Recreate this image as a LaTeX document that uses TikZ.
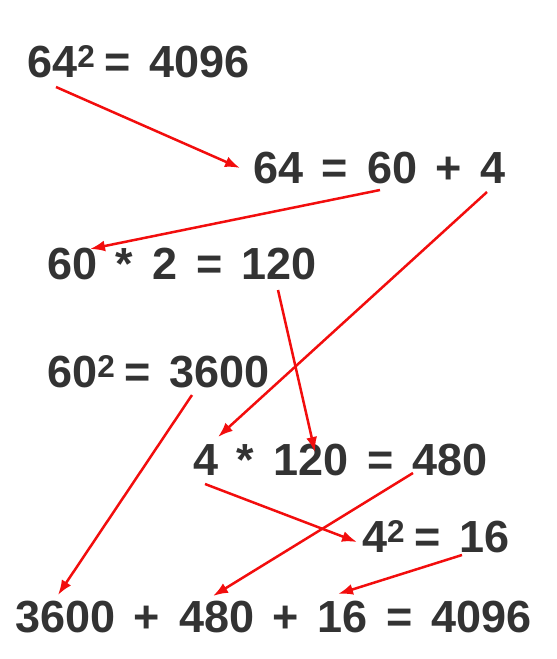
\documentclass[tikz,border=0pt]{standalone}
\usepackage{fontspec}
\setmainfont{Liberation Sans}[WordSpace=1.5]
\usetikzlibrary{arrows.meta}
\definecolor{ink}{HTML}{333333}
\definecolor{mark}{HTML}{F20D0D}
\newcommand{\sqr}{\textsuperscript{2}\kern9pt}
\tikzset{eq/.style={anchor=base west,inner sep=0pt,text=ink,font=\fontsize{45}{50}\selectfont\bfseries},link/.style={-{Latex[length=15pt,width=11pt]},line width=2.5pt,draw=mark}}

\begin{document}
\begin{tikzpicture}[x=1pt,y=-1pt]
\useasboundingbox (0,0) rectangle (557,659);
\node[eq] (sq) at (27,77) {64\sqr= 4096};
\node[eq] (split) at (253,183) {64 = 60 + 4};
\node[eq] (twice) at (47,279) {60 * 2 = 120};
\node[eq] (tens) at (47,387) {60\sqr= 3600};
\node[eq] (cross) at (193,475) {4 * 120 = 480};
\node[eq] (units) at (362,552) {4\sqr= 16};
\node[eq] (sum) at (15,632) {3600 + 480 + 16 = 4096};
\draw[link] ([shift={(29,10)}]sq.base west)--([shift={(-13,-15)}]split.base west);
\draw[link] ([shift={(127,7)}]split.base west)--([shift={(43,-30)}]twice.base west);
\draw[link] ([shift={(234,9)}]split.base west)--([shift={(25,-38)}]cross.base west);
\draw[link] ([shift={(231,11)}]twice.base west)--([shift={(122,-23)}]cross.base west);
\draw[link] ([shift={(145,8)}]tens.base west)--([shift={(43,-37)}]sum.base west);
\draw[link] ([shift={(12,9)}]cross.base west)--([shift={(-5,-10)}]units.base west);
\draw[link] ([shift={(220,-2)}]cross.base west)--([shift={(198,-36)}]sum.base west);
\draw[link] ([shift={(100,3)}]units.base west)--([shift={(323,-38)}]sum.base west);
\end{tikzpicture}
\end{document}
